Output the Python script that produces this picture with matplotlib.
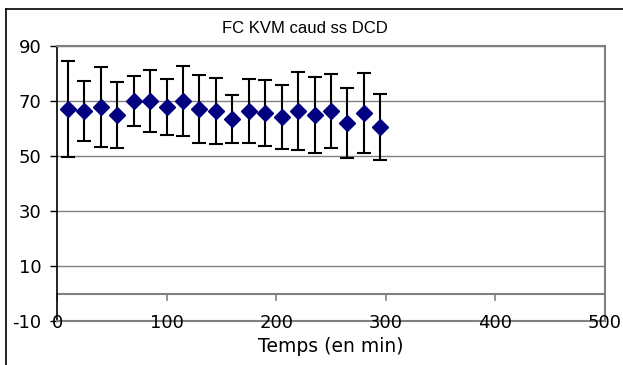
import matplotlib

matplotlib.use("Agg")
import matplotlib.pyplot as plt
from matplotlib.lines import Line2D

plt.rcParams["font.family"] = ["DejaVu Sans"]

# Data (mean +/- sd)
temps = [10, 25, 40, 55, 70, 85, 100, 115, 130, 145,
         160, 175, 190, 205, 220, 235, 250, 265, 280, 295]
fc_moy = [67.1, 66.4, 67.8, 64.8, 70.0, 70.0, 67.8, 70.0, 67.1, 66.4,
          63.5, 66.4, 65.6, 64.2, 66.4, 64.9, 66.4, 62.0, 65.6, 60.5]
fc_sd = [17.4, 10.9, 14.5, 12.0, 9.0, 11.2, 10.1, 12.7, 12.4, 12.0,
         8.7, 11.6, 12.0, 11.5, 14.1, 13.7, 13.4, 12.6, 14.5, 12.0]

y_ticks = [-10, 10, 30, 50, 70, 90]
x_ticks = [0, 100, 200, 300, 400, 500]
titre = "FC KVM caud ss DCD"
x_label = "Temps (en min)"

GRID = "#808080"

fig = plt.figure(figsize=(6.23, 3.65), dpi=100)
ax = fig.add_axes([0.0915, 0.1205, 0.8796, 0.7534])

ax.errorbar(temps, fc_moy, yerr=fc_sd, fmt="D", color="#000080",
            markersize=8.5, ecolor="black", elinewidth=1.5, capsize=5,
            capthick=1.5, zorder=3)

ax.set_xlim(0, 500)
ax.set_ylim(-10, 90)
ax.set_yticks(y_ticks)
ax.set_yticklabels([str(v) for v in y_ticks], fontsize=13)
ax.tick_params(axis="y", length=5, width=1, color="black", pad=6)

# gridlines (except bottom) + axis line at y=0
for v in y_ticks[1:]:
    ax.axhline(v, color=GRID, linewidth=1, zorder=1)
ax.axhline(0, color=GRID, linewidth=1.5, zorder=1)

# x ticks hang from the y=0 line, labels sit on the bottom border
ax.set_xticks([])
for xv in x_ticks:
    ax.plot([xv, xv], [0, -2.4], color=GRID, linewidth=1.2,
            clip_on=False, zorder=2)
    ax.text(xv, -10.9, str(xv), ha="center", va="center", fontsize=13,
            zorder=4)

for s in ["top", "right", "bottom"]:
    ax.spines[s].set_color(GRID)
    ax.spines[s].set_linewidth(1.5)
ax.spines["left"].set_color("black")
ax.spines["left"].set_linewidth(1.2)

fig.text(0.531, 0.052, x_label, ha="center", va="center", fontsize=13.5)
fig.text(0.49, 0.923, titre, ha="center", va="center", fontsize=12,
         family="Liberation Sans")

# chart area border (left and top)
fig.add_artist(Line2D([6 / 623, 6 / 623], [0, 1 - 9 / 365],
                      transform=fig.transFigure, color="black", linewidth=1.2))
fig.add_artist(Line2D([6 / 623, 1], [1 - 9 / 365, 1 - 9 / 365],
                      transform=fig.transFigure, color="black", linewidth=1.2))

fig.savefig("out.png", dpi=100)
